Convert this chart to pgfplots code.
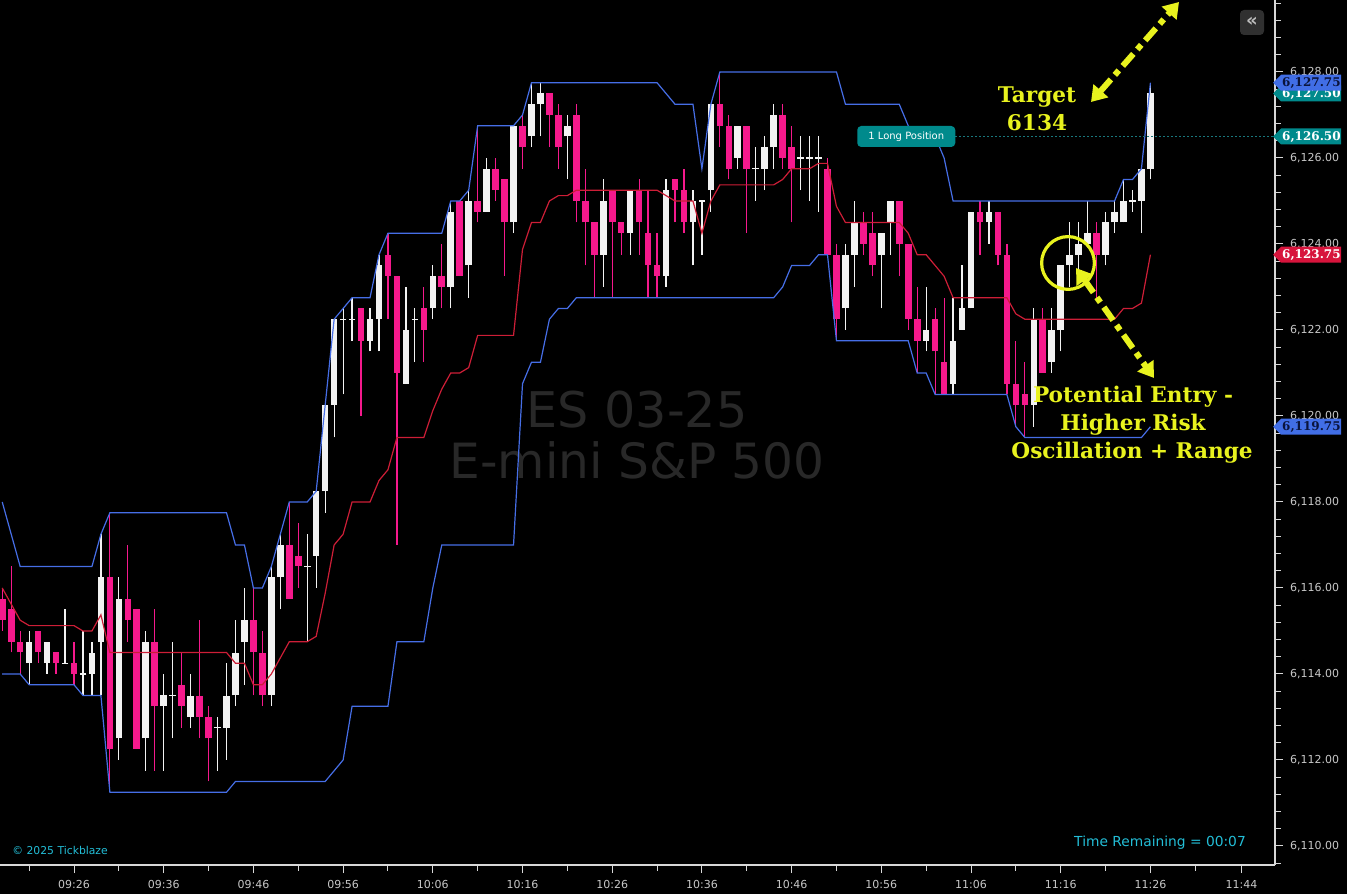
\documentclass[border=0pt]{standalone}
\usepackage{fontspec}
\setmainfont{DejaVu Sans}
\newfontfamily\annofont{DejaVu Serif}
\usepackage{pgfplots}
\pgfplotsset{compat=1.18}
\usepackage{pgfplotstable}
\usetikzlibrary{arrows.meta}

\definecolor{upc}{RGB}{242,242,242}
\definecolor{dnc}{RGB}{245,25,140}
\definecolor{chan}{RGB}{70,110,230}
\definecolor{midc}{RGB}{205,30,55}
\definecolor{axisc}{RGB}{215,215,215}
\definecolor{lblc}{RGB}{200,200,200}
\definecolor{wmark}{RGB}{40,40,40}
\definecolor{anno}{RGB}{232,242,30}
\definecolor{tealc}{RGB}{0,138,140}
\definecolor{tealline}{RGB}{25,120,125}
\definecolor{tagblue}{RGB}{65,110,230}
\definecolor{tagred}{RGB}{215,20,60}
\definecolor{tagnavy}{RGB}{10,20,60}
\definecolor{cyanc}{RGB}{35,190,215}
\definecolor{btn}{RGB}{48,48,48}
\definecolor{btntext}{RGB}{190,190,190}

% one-minute bars: minute offset from 09:26, open, high, low, close
\pgfplotstableread{
k o h l c
-5 6114.25 6115.0 6113.75 6114.75
-3 6114.25 6114.75 6114.0 6114.75
2 6114.0 6114.75 6113.5 6114.5
3 6114.75 6117.25 6113.5 6116.25
5 6112.5 6116.25 6112.0 6115.75
8 6112.5 6115.0 6111.75 6114.75
10 6113.25 6114.0 6111.75 6113.5
13 6113.0 6114.0 6112.75 6113.5
17 6112.75 6114.25 6112.0 6113.5
18 6113.5 6115.25 6113.25 6114.5
19 6114.75 6116.0 6113.75 6115.25
22 6113.5 6116.5 6113.25 6116.25
23 6116.25 6117.25 6115.5 6117.0
27 6116.75 6118.25 6116.0 6118.25
28 6118.25 6120.25 6117.75 6120.25
29 6120.25 6122.25 6119.5 6122.25
33 6121.75 6122.5 6121.5 6122.25
34 6122.25 6123.75 6121.5 6123.5
37 6120.75 6123.0 6120.75 6122.0
40 6122.5 6123.5 6122.25 6123.25
42 6123.0 6125.0 6122.5 6124.75
44 6123.5 6125.25 6122.75 6125.0
46 6124.75 6126.0 6124.75 6125.75
49 6124.5 6126.75 6124.25 6126.75
51 6126.5 6127.75 6126.25 6127.25
52 6127.25 6127.75 6126.5 6127.5
55 6126.5 6127.0 6125.5 6126.75
59 6123.75 6125.5 6123.0 6125.0
62 6124.25 6125.25 6123.75 6125.25
66 6123.25 6125.5 6123.0 6125.25
69 6124.5 6125.25 6123.5 6125.0
71 6125.25 6127.25 6124.75 6127.25
74 6126.0 6126.75 6125.75 6126.75
77 6125.75 6126.5 6125.25 6126.25
78 6126.25 6127.25 6125.75 6127.0
86 6122.5 6124.0 6122.0 6123.75
87 6123.75 6125.0 6123.0 6124.5
90 6123.75 6124.25 6122.5 6124.25
91 6124.5 6125.0 6123.75 6125.0
95 6121.75 6123.0 6121.5 6122.0
98 6120.75 6122.75 6120.5 6121.75
99 6122.0 6123.5 6122.0 6122.5
100 6122.5 6124.75 6122.5 6124.75
102 6124.5 6125.0 6124.0 6124.75
107 6120.25 6122.5 6119.75 6122.25
109 6121.25 6122.5 6121.0 6122.0
110 6122.0 6123.5 6121.5 6123.5
111 6123.5 6124.5 6123.0 6123.75
112 6123.75 6124.5 6123.25 6124.0
113 6124.0 6125.0 6124.0 6124.25
115 6123.75 6124.75 6123.5 6124.5
116 6124.5 6125.0 6124.25 6124.75
117 6124.5 6125.5 6124.5 6125.0
119 6125.0 6125.75 6124.25 6125.75
120 6125.75 6127.75 6125.5 6127.5
}\upbars

\pgfplotstableread{
k o h l c
-8 6115.75 6116.0 6115.0 6115.25
-7 6115.5 6116.5 6114.5 6114.75
-6 6114.75 6115.0 6114.0 6114.5
-4 6115.0 6115.0 6114.25 6114.5
-2 6114.5 6114.5 6114.0 6114.25
0 6114.25 6114.75 6113.75 6114.0
4 6116.25 6117.75 6111.25 6112.25
6 6115.75 6117.0 6114.75 6115.25
7 6115.5 6115.5 6112.25 6112.25
9 6114.75 6115.5 6111.75 6113.25
12 6113.75 6114.5 6112.75 6113.25
14 6113.5 6115.25 6112.5 6113.0
15 6113.0 6113.25 6111.5 6112.5
20 6115.25 6116.0 6113.5 6114.5
21 6114.5 6115.0 6113.25 6113.5
24 6117.0 6118.0 6115.75 6115.75
25 6116.75 6117.5 6116.0 6116.5
32 6122.5 6122.5 6120.0 6121.75
35 6123.75 6124.25 6122.25 6123.25
36 6123.25 6123.25 6117.0 6121.0
39 6122.5 6123.0 6121.25 6122.0
41 6123.25 6124.0 6122.5 6123.0
43 6125.0 6125.0 6123.25 6123.25
45 6125.0 6126.75 6124.5 6124.75
47 6125.75 6126.0 6125.0 6125.25
48 6125.5 6125.5 6123.25 6124.5
50 6126.75 6127.0 6125.75 6126.25
53 6127.5 6127.5 6126.25 6127.0
54 6127.0 6127.25 6125.75 6126.25
56 6127.0 6127.25 6124.5 6125.0
57 6125.0 6125.75 6123.5 6124.5
58 6124.5 6124.5 6122.75 6123.75
60 6125.25 6125.25 6122.75 6124.5
61 6124.5 6124.5 6123.75 6124.25
63 6125.25 6125.5 6123.75 6124.5
64 6124.25 6125.25 6122.75 6123.5
65 6123.5 6124.25 6122.75 6123.25
67 6125.5 6125.5 6124.5 6125.25
68 6125.25 6125.75 6124.25 6124.5
72 6127.25 6128.0 6126.25 6126.75
73 6126.75 6127.0 6125.5 6125.75
75 6126.75 6126.75 6124.25 6125.75
79 6127.0 6127.25 6125.75 6126.0
80 6126.25 6126.75 6124.5 6125.75
84 6125.75 6126.0 6123.75 6123.75
85 6123.75 6124.0 6121.75 6122.25
88 6124.5 6124.75 6123.75 6124.0
89 6124.25 6124.75 6123.25 6123.5
92 6125.0 6125.0 6123.25 6124.0
93 6124.0 6124.0 6122.0 6122.25
94 6122.25 6123.0 6121.0 6121.75
96 6122.25 6122.5 6120.5 6121.5
97 6121.25 6122.75 6120.5 6120.5
101 6124.75 6125.0 6123.75 6124.5
103 6124.75 6124.75 6123.5 6123.75
104 6123.75 6124.0 6120.5 6120.75
105 6120.75 6121.75 6119.75 6120.25
106 6120.5 6121.25 6119.5 6120.25
108 6122.25 6122.5 6121.0 6121.0
114 6124.25 6124.5 6122.75 6123.75
}\downbars

\pgfplotstableread{
k o h l c
-1 6114.25 6115.5 6114.25 6114.25
1 6114.0 6115.0 6113.5 6114.0
11 6113.5 6114.75 6112.5 6113.5
16 6112.75 6113.0 6111.75 6112.75
26 6116.5 6117.25 6114.75 6116.5
30 6122.25 6122.5 6120.5 6122.25
31 6122.25 6122.75 6121.75 6122.25
38 6122.25 6122.5 6121.25 6122.25
70 6125.0 6125.0 6123.75 6125.0
76 6125.75 6126.25 6125.0 6125.75
81 6126.0 6126.5 6125.25 6126.0
82 6126.0 6126.5 6125.0 6126.0
83 6126.0 6126.5 6124.75 6126.0
118 6125.0 6125.25 6124.75 6125.0
}\dojibars

% 14-bar price channel: upper, middle, lower
\pgfplotstableread{
k up mid lo
-8 6118.0 6116.0 6114.0
-7 6117.25 6115.625 6114.0
-6 6116.5 6115.25 6114.0
-5 6116.5 6115.125 6113.75
-4 6116.5 6115.125 6113.75
-3 6116.5 6115.125 6113.75
-2 6116.5 6115.125 6113.75
-1 6116.5 6115.125 6113.75
0 6116.5 6115.125 6113.75
1 6116.5 6115.0 6113.5
2 6116.5 6115.0 6113.5
3 6117.25 6115.375 6113.5
4 6117.75 6114.5 6111.25
5 6117.75 6114.5 6111.25
6 6117.75 6114.5 6111.25
7 6117.75 6114.5 6111.25
8 6117.75 6114.5 6111.25
9 6117.75 6114.5 6111.25
10 6117.75 6114.5 6111.25
11 6117.75 6114.5 6111.25
12 6117.75 6114.5 6111.25
13 6117.75 6114.5 6111.25
14 6117.75 6114.5 6111.25
15 6117.75 6114.5 6111.25
16 6117.75 6114.5 6111.25
17 6117.75 6114.5 6111.25
18 6117.0 6114.25 6111.5
19 6117.0 6114.25 6111.5
20 6116.0 6113.75 6111.5
21 6116.0 6113.75 6111.5
22 6116.5 6114.0 6111.5
23 6117.25 6114.375 6111.5
24 6118.0 6114.75 6111.5
25 6118.0 6114.75 6111.5
26 6118.0 6114.75 6111.5
27 6118.25 6114.875 6111.5
28 6120.25 6115.875 6111.5
29 6122.25 6117.0 6111.75
30 6122.5 6117.25 6112.0
31 6122.75 6118.0 6113.25
32 6122.75 6118.0 6113.25
33 6122.75 6118.0 6113.25
34 6123.75 6118.5 6113.25
35 6124.25 6118.75 6113.25
36 6124.25 6119.5 6114.75
37 6124.25 6119.5 6114.75
38 6124.25 6119.5 6114.75
39 6124.25 6119.5 6114.75
40 6124.25 6120.125 6116.0
41 6124.25 6120.625 6117.0
42 6125.0 6121.0 6117.0
43 6125.0 6121.0 6117.0
44 6125.25 6121.125 6117.0
45 6126.75 6121.875 6117.0
46 6126.75 6121.875 6117.0
47 6126.75 6121.875 6117.0
48 6126.75 6121.875 6117.0
49 6126.75 6121.875 6117.0
50 6127.0 6123.875 6120.75
51 6127.75 6124.5 6121.25
52 6127.75 6124.5 6121.25
53 6127.75 6125.0 6122.25
54 6127.75 6125.125 6122.5
55 6127.75 6125.125 6122.5
56 6127.75 6125.25 6122.75
57 6127.75 6125.25 6122.75
58 6127.75 6125.25 6122.75
59 6127.75 6125.25 6122.75
60 6127.75 6125.25 6122.75
61 6127.75 6125.25 6122.75
62 6127.75 6125.25 6122.75
63 6127.75 6125.25 6122.75
64 6127.75 6125.25 6122.75
65 6127.75 6125.25 6122.75
66 6127.5 6125.125 6122.75
67 6127.25 6125.0 6122.75
68 6127.25 6125.0 6122.75
69 6127.25 6125.0 6122.75
70 6125.75 6124.25 6122.75
71 6127.25 6125.0 6122.75
72 6128.0 6125.375 6122.75
73 6128.0 6125.375 6122.75
74 6128.0 6125.375 6122.75
75 6128.0 6125.375 6122.75
76 6128.0 6125.375 6122.75
77 6128.0 6125.375 6122.75
78 6128.0 6125.375 6122.75
79 6128.0 6125.5 6123.0
80 6128.0 6125.75 6123.5
81 6128.0 6125.75 6123.5
82 6128.0 6125.75 6123.5
83 6128.0 6125.875 6123.75
84 6128.0 6125.875 6123.75
85 6128.0 6124.875 6121.75
86 6127.25 6124.5 6121.75
87 6127.25 6124.5 6121.75
88 6127.25 6124.5 6121.75
89 6127.25 6124.5 6121.75
90 6127.25 6124.5 6121.75
91 6127.25 6124.5 6121.75
92 6127.25 6124.5 6121.75
93 6126.75 6124.25 6121.75
94 6126.5 6123.75 6121.0
95 6126.5 6123.75 6121.0
96 6126.5 6123.5 6120.5
97 6126.0 6123.25 6120.5
98 6125.0 6122.75 6120.5
99 6125.0 6122.75 6120.5
100 6125.0 6122.75 6120.5
101 6125.0 6122.75 6120.5
102 6125.0 6122.75 6120.5
103 6125.0 6122.75 6120.5
104 6125.0 6122.75 6120.5
105 6125.0 6122.375 6119.75
106 6125.0 6122.25 6119.5
107 6125.0 6122.25 6119.5
108 6125.0 6122.25 6119.5
109 6125.0 6122.25 6119.5
110 6125.0 6122.25 6119.5
111 6125.0 6122.25 6119.5
112 6125.0 6122.25 6119.5
113 6125.0 6122.25 6119.5
114 6125.0 6122.25 6119.5
115 6125.0 6122.25 6119.5
116 6125.0 6122.25 6119.5
117 6125.5 6122.5 6119.5
118 6125.5 6122.5 6119.5
119 6125.75 6122.625 6119.5
120 6127.75 6123.75 6119.75
}\channel

\newcommand\tagfont{\annofont\bfseries\fontsize{6pt}{7pt}\selectfont}
% price tag on the right scale: coordinate, fill, text colour, text
\newcommand\pricetag[4]{%
  \fill[#2] ([xshift=-1pt]#1) -- ([xshift=3pt,yshift=4pt]#1) -- ([xshift=33pt,yshift=4pt]#1)
    -- ([xshift=33pt,yshift=-4pt]#1) -- ([xshift=3pt,yshift=-4pt]#1) -- cycle;
  \node[text=#3, font=\tagfont, inner sep=0pt] at ([xshift=18.2pt,yshift=-0.2pt]#1) {#4};}

\pgfplotsset{
  candle/.style 2 args={draw=none, mark=none, forget plot,
    error bars/.cd, y dir=plus, y explicit, error mark=none,
    error bar style={draw=#1, line width=#2}},
}

\begin{document}
\begin{tikzpicture}
\useasboundingbox (0,0) rectangle (673.5pt,447pt);
\fill[black] (0,0) rectangle (673.5pt,447pt);

% symbol watermark
\begin{scope}[x=0.5pt,y=-0.5pt,shift={(0pt,447pt)}]
  \node[text=wmark, font=\fontsize{24.6pt}{26pt}\selectfont] at (637,410) {ES 03-25};
  \node[text=wmark, font=\fontsize{24.3pt}{26pt}\selectfont] at (637,460) {E-mini S\&P 500};
\end{scope}

\begin{axis}[
  at={(0pt,14.5pt)}, anchor=south west,
  width=637.5pt, height=432.5pt, scale only axis,
  xmin=-8.25, xmax=133.89, ymin=6109.558, ymax=6129.674,
  axis x line*=bottom, axis y line*=right,
  axis line style={draw=axisc, line width=0.7pt, -},
  tick align=outside,
  major tick length=4pt, minor tick length=2.8pt,
  tick style={draw=axisc, line width=0.5pt},
  scaled y ticks=false,
  ytick={6110,6112,6114,6116,6118,6120,6122,6124,6126,6128},
  minor ytick={6109.6,6110.0,...,6129.6},
  yticklabel={\pgfmathprintnumber[fixed,fixed zerofill,precision=2,1000 sep={,}]{\tick}},
  xtick={0,10,20,30,40,50,60,70,80,90,100,110,120,130.15},
  xticklabels={09:26,09:36,09:46,09:56,10:06,10:16,10:26,10:36,10:46,10:56,11:06,11:16,11:26,11:44},
  minor xtick={-5,5,15,25,35,45,55,65,75,85,95,105,115,125},
  /pgf/number format/assume math mode=true,
  tick label style={text=lblc, font=\fontsize{5.5pt}{6pt}\selectfont},
  yticklabel style={anchor=west},
  xticklabel style={anchor=north},
]
% wicks
\addplot[candle={upc}{0.6pt}] table[x=k, y=l, y error expr=\thisrow{h}-\thisrow{l}] {\upbars};
\addplot[candle={dnc}{0.6pt}] table[x=k, y=l, y error expr=\thisrow{h}-\thisrow{l}] {\downbars};
\addplot[candle={upc}{0.6pt}] table[x=k, y=l, y error expr=\thisrow{h}-\thisrow{l}] {\dojibars};
% bodies
\addplot[candle={upc}{3.3pt}] table[x=k, y=o, y error expr=\thisrow{c}-\thisrow{o}] {\upbars};
\addplot[candle={dnc}{3.3pt}] table[x=k, y=c, y error expr=\thisrow{o}-\thisrow{c}] {\downbars};
\addplot[only marks, mark=-, mark size=1.65pt, mark options={draw=upc, line width=0.6pt}]
  table[x=k, y=c] {\dojibars};
% channel
\addplot[chan, line width=0.6pt] table[x=k, y=up] {\channel};
\addplot[midc, line width=0.6pt] table[x=k, y=mid] {\channel};
\addplot[chan, line width=0.6pt] table[x=k, y=lo] {\channel};

% open position
\draw[tealline, line width=0.5pt, dash pattern=on 1pt off 1pt] (axis cs:98.25,6126.5) -- (axis cs:133.89,6126.5);
\node[fill=tealc, rounded corners=2pt, text=white, font=\fontsize{5pt}{6pt}\selectfont,
  minimum width=49pt, minimum height=10.5pt, inner sep=0pt] at (axis cs:92.78,6126.5) {1 Long Position};

\coordinate (tagHi) at (axis cs:133.89,6127.75);
\coordinate (tagLast) at (axis cs:133.89,6127.5);
\coordinate (tagPos) at (axis cs:133.89,6126.5);
\coordinate (tagMid) at (axis cs:133.89,6123.75);
\coordinate (tagLo) at (axis cs:133.89,6119.75);
\end{axis}

\pricetag{tagLast}{tealc}{white}{6,127.50}
\pricetag{tagHi}{tagblue}{tagnavy}{6,127.75}
\pricetag{tagPos}{tealc}{white}{6,126.50}
\pricetag{tagMid}{tagred}{white}{6,123.75}
\pricetag{tagLo}{tagblue}{tagnavy}{6,119.75}

\begin{scope}[x=0.5pt,y=-0.5pt,shift={(0pt,447pt)}]
  \fill[btn, rounded corners=2pt] (1240,10) rectangle (1264,35);
  \node[text=btntext, font=\bfseries\fontsize{9pt}{9pt}\selectfont] at (1252,21.5) {«};
  % annotations
  \draw[anno, line width=1.6pt] (1068,263) circle[radius=13.2pt];
  \draw[anno, line width=3pt, dash pattern=on 8pt off 3pt on 3pt off 3pt,
    {Triangle[length=7.5pt,width=9.5pt]}-{Triangle[length=7.5pt,width=9.5pt]}] (1091,102) -- (1179,2);
  \draw[anno, line width=3pt, dash pattern=on 8pt off 3pt on 3pt off 3pt,
    {Triangle[length=7.5pt,width=9.5pt]}-{Triangle[length=7.5pt,width=9.5pt]}] (1076,268) -- (1154,378);
  \begin{scope}[every node/.style={text=anno, anchor=base, inner sep=0pt,
      font=\annofont\bfseries\fontsize{10.8pt}{13pt}\selectfont}]
    \node at (1037,103) {Target};
    \node at (1037,131) {6134};
    \node at (1133,403) {Potential Entry -};
    \node at (1133,431) {Higher Risk};
    \node at (1132,459) {Oscillation + Range};
  \end{scope}
  \node[text=cyanc, anchor=base west, inner sep=0pt, font=\fontsize{5.4pt}{6pt}\selectfont] at (12,854) {© 2025 Tickblaze};
  \node[text=cyanc, anchor=base, inner sep=0pt, font=\fontsize{6.9pt}{8pt}\selectfont] at (1160,846) {Time Remaining = 00:07};
\end{scope}
\end{tikzpicture}
\end{document}
